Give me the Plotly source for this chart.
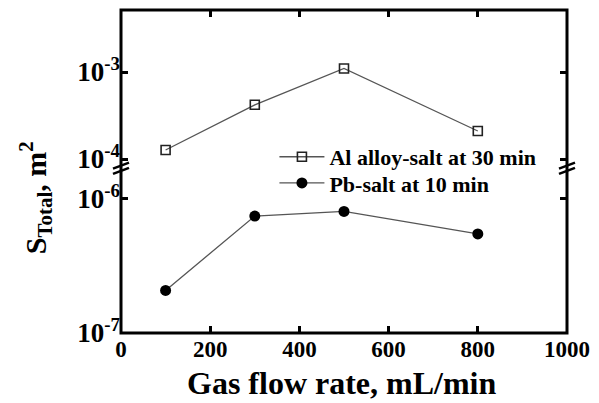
import plotly.graph_objects as go

# Gas flow rate, mL/min
flow_rate = [100, 300, 500, 800]

# Total surface area, m^2
al_alloy_30min = [1.27e-4, 4.2e-4, 1.10e-3, 2.1e-4]
pb_salt_10min = [2.07e-7, 7.4e-7, 8.0e-7, 5.45e-7]

x_ticks = [0, 200, 400, 600, 800, 1000]
x_labels = ["<b>%d</b>" % v for v in x_ticks]
upper_ticks = [1e-4, 1e-3]
upper_labels = ["<b>10<sup>-4</sup></b>", "<b>10<sup>-3</sup></b>"]
lower_ticks = [1e-7, 1e-6]
lower_labels = ["<b>10<sup>-7</sup></b>", "<b>10<sup>-6</sup></b>"]

FONT = "Liberation Serif, Times New Roman, serif"
x_tick_font = dict(family=FONT, size=23, color="black")
y_tick_font = dict(family=FONT, size=27, color="black")
legend_font = dict(family=FONT, size=22, color="black")
line_col = "#555555"

fig = go.Figure()

fig.add_trace(go.Scatter(
    x=flow_rate, y=al_alloy_30min, xaxis="x2", yaxis="y2",
    mode="lines+markers", name="<b>Al alloy-salt at 30 min</b>", legend="legend",
    line=dict(color=line_col, width=1.3),
    marker=dict(symbol="square-open", size=9, color="#222222",
                line=dict(width=1.6, color="#222222")),
))
fig.add_trace(go.Scatter(
    x=flow_rate, y=pb_salt_10min, xaxis="x", yaxis="y",
    mode="lines+markers", name="<b>Pb-salt at 10 min</b>", legend="legend2",
    line=dict(color=line_col, width=1.3),
    marker=dict(symbol="circle", size=11, color="black"),
))

tick_style = dict(ticks="inside", ticklen=7, tickwidth=2.5, tickcolor="black",
                  showgrid=False, zeroline=False, showline=False)

legend_style = dict(xanchor="left", yanchor="middle", bgcolor="rgba(0,0,0,0)",
                    itemwidth=45, font=legend_font)

fig.update_layout(
    width=599, height=403,
    margin=dict(l=121, r=32, t=10, b=70),
    paper_bgcolor="white", plot_bgcolor="white",
    xaxis=dict(range=[0, 1000], tickvals=x_ticks, ticktext=x_labels, anchor="y",
               side="bottom", tickfont=x_tick_font, **tick_style),
    xaxis2=dict(range=[0, 1000], tickvals=x_ticks, anchor="y2", side="top",
                overlaying="x", matches="x", showticklabels=False, **tick_style),
    yaxis=dict(type="log", range=[-7, -5.80], domain=[0, 0.50], anchor="x",
               tickvals=lower_ticks, ticktext=lower_labels, mirror="ticks",
               tickfont=y_tick_font, **tick_style),
    yaxis2=dict(type="log", range=[-4.069, -2.287], domain=[0.52, 1], anchor="x2",
                tickvals=upper_ticks, ticktext=upper_labels, mirror="ticks",
                tickfont=y_tick_font, **tick_style),
    legend=dict(x=0.344, y=0.545, **legend_style),
    legend2=dict(x=0.344, y=0.464, **legend_style),
    showlegend=True,
)

# Frame around the whole plot area
shapes = [dict(type="rect", xref="paper", yref="paper", x0=0, x1=1, y0=0, y1=1,
               line=dict(color="black", width=3), layer="above")]

# Axis break marks on both vertical axis lines
for xa in (0, 1):
    for ya in (0.502, 0.518):
        shapes.append(dict(type="line", xref="paper", yref="paper",
                           xsizemode="pixel", ysizemode="pixel",
                           xanchor=xa, yanchor=ya, x0=-8, x1=8, y0=-3, y1=3,
                           line=dict(color="black", width=2.5), layer="above"))
fig.update_layout(shapes=shapes)

fig.add_annotation(text="<b>Gas flow rate, mL/min</b>", xref="paper", yref="paper",
                   x=0.496, y=-0.155, xanchor="center", yanchor="middle", showarrow=False,
                   font=dict(family=FONT, size=32, color="black"))
fig.add_annotation(text="<b>S<sub>Total</sub>, m<sup>2</sup></b>", xref="paper", yref="paper",
                   x=-0.19, y=0.418, xanchor="center", yanchor="middle", showarrow=False,
                   textangle=-90, font=dict(family=FONT, size=30, color="black"))

fig.write_html("out.html")
